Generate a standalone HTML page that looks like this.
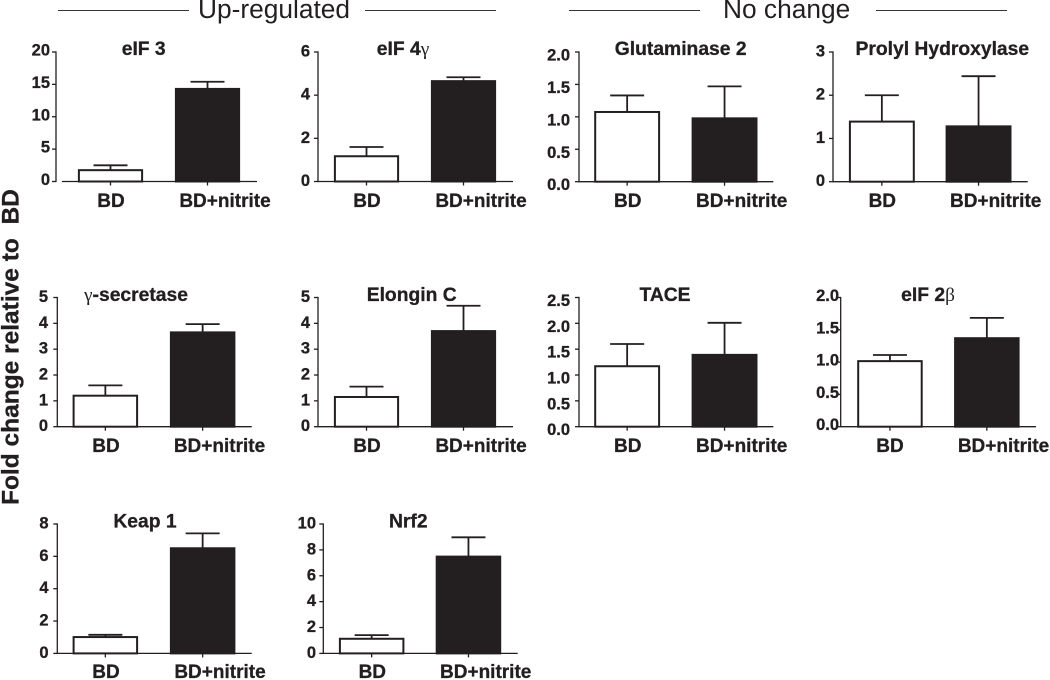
<!DOCTYPE html>
<html lang="en">
<head>
<meta charset="utf-8">
<title>Fold change relative to BD</title>
<style>
  html, body { margin: 0; padding: 0; background: #fff; }
  body { width: 1050px; height: 680px; overflow: hidden; }
  svg { display: block; }
  text { font-family: "Liberation Sans", Arial, sans-serif; fill: #231f20; }
  .bold { font-weight: 700; stroke: #231f20; stroke-width: 0.3px; }
  .greek { font-family: "Liberation Serif", serif; font-weight: 400; stroke-width: 0; }
</style>
</head>
<body>
<svg id="figure" width="1050" height="680" viewBox="0 0 1050 680" xmlns="http://www.w3.org/2000/svg">
  <rect width="1050" height="680" fill="#fff"/>
  <line x1="58" y1="10.5" x2="189" y2="10.5" stroke="#3a3637" stroke-width="1"/>
  <text x="198" y="18" font-size="26.3">Up-regulated</text>
  <line x1="365" y1="10.5" x2="496" y2="10.5" stroke="#3a3637" stroke-width="1"/>
  <line x1="569" y1="10.5" x2="700" y2="10.5" stroke="#3a3637" stroke-width="1"/>
  <text x="723" y="18" font-size="26.3">No change</text>
  <line x1="876" y1="10.5" x2="1007" y2="10.5" stroke="#3a3637" stroke-width="1"/>
  <text class="bold" font-size="24.5" transform="translate(18.5 505) rotate(-90)" xml:space="preserve">Fold change relative to  BD</text>
</svg>
<script>
// ---- Chart data ----
const categories = ["BD", "BD+nitrite"];
const panelNames = ["eIF 3", "eIF 4γ", "Glutaminase 2", "Prolyl Hydroxylase", "γ-secretase", "Elongin C", "TACE", "eIF 2β", "Keap 1", "Nrf2"];
const tickLabels = [
  ["0", "5", "10", "15", "20"],
  ["0", "2", "4", "6"],
  ["0.0", "0.5", "1.0", "1.5", "2.0"],
  ["0", "1", "2", "3"],
  ["0", "1", "2", "3", "4", "5"],
  ["0", "1", "2", "3", "4", "5"],
  ["0.0", "0.5", "1.0", "1.5", "2.0", "2.5"],
  ["0.0", "0.5", "1.0", "1.5", "2.0"],
  ["0", "2", "4", "6", "8"],
  ["0", "2", "4", "6", "8", "10"]
];
const bdValues = [1.75, 1.17, 1.075, 1.39, 1.2, 1.15, 1.17, 1.015, 1.01, 1.13];
const bdErrors = [0.75, 0.43, 0.255, 0.61, 0.4, 0.4, 0.43, 0.095, 0.14, 0.28];
const nitriteValues = [14.3, 4.65, 0.977, 1.28, 3.65, 3.7, 1.39, 1.37, 6.5, 7.48];
const nitriteErrors = [1.1, 0.18, 0.493, 1.16, 0.32, 0.98, 0.62, 0.315, 0.92, 1.49];

// ---- Panel layout (geometry only) ----
const panelLayout = [
  {axisX:56,    axisStart:62,  axisEnd:257,  top:52,  bottom:181.5, barLeft:78,  barWidth:65, barStep:97,   labelEnd:50,  labelShift:-1, titleX:143.7, titleY:55,  labelY:207, labelCenters:[111,225]},
  {axisX:318,   axisStart:318, axisEnd:513,  top:52,  bottom:181.5, barLeft:334, barWidth:65, barStep:97,   labelEnd:310, labelShift:0, titleX:403,   titleY:55,  labelY:207, labelCenters:[367,481]},
  {axisX:579,   axisStart:579, axisEnd:773.3,top:52,  bottom:181.7, barLeft:594.3,barWidth:65.7,barStep:97.4,labelEnd:570, labelShift:4, titleX:680.7, titleY:55,  labelY:207, labelCenters:[627.7,741.7]},
  {axisX:833,   axisStart:833, axisEnd:1027.7,top:52, bottom:181.7, barLeft:849, barWidth:65.7, barStep:96.7, labelEnd:825, labelShift:0, titleX:942.3, titleY:55,  labelY:207, labelCenters:[882.3,995.7]},
  {axisX:57.3,  axisStart:57.3,axisEnd:251.7,top:297.5,bottom:426.7,barLeft:72.7,barWidth:65.3,barStep:97.3, labelEnd:48,  labelShift:0, titleX:136,   titleY:301, labelY:452, labelCenters:[106,219.5]},
  {axisX:318,   axisStart:318, axisEnd:513,  top:297.5,bottom:426.7,barLeft:334, barWidth:65, barStep:97,   labelEnd:310, labelShift:0, titleX:411.7, titleY:301, labelY:452, labelCenters:[367,481]},
  {axisX:579,   axisStart:579, axisEnd:773.3,top:297.5,bottom:426.7,barLeft:594.3,barWidth:65.7,barStep:97.4,labelEnd:570, labelShift:4, titleX:665,   titleY:301, labelY:452, labelCenters:[627.7,741.7]},
  {axisX:840.7, axisStart:840.7,axisEnd:1036,top:297.5,bottom:426.7,barLeft:857.3,barWidth:65.3,barStep:96.9,labelEnd:839, labelShift:-1, titleX:928,   titleY:301, labelY:452, labelCenters:[890,1003.5]},
  {axisX:57.3,  axisStart:57.3,axisEnd:251.7,top:524, bottom:653.4, barLeft:72.7,barWidth:65.3,barStep:97.3, labelEnd:48.5,labelShift:0, titleX:145,   titleY:527.7,labelY:678, labelCenters:[106,220]},
  {axisX:323.3, axisStart:323.3,axisEnd:517.7,top:524,bottom:653.4, barLeft:339, barWidth:65.3,barStep:96.8, labelEnd:316, labelShift:0, titleX:408.3, titleY:527.7,labelY:678, labelCenters:[372.3,485.7]}
];

const INK = "#231f20";
const SVG_NS = "http://www.w3.org/2000/svg";
const figure = document.getElementById("figure");

function shape(parent, tag, attrs) {
  const node = document.createElementNS(SVG_NS, tag);
  for (const key in attrs) node.setAttribute(key, attrs[key]);
  parent.appendChild(node);
  return node;
}
function yScale(layout, domainMax) {
  return value => layout.bottom - (value / domainMax) * (layout.bottom - layout.top);
}
function xBand(layout) {
  return index => layout.barLeft + index * layout.barStep;
}
function slug(text) {
  return text.toLowerCase().replace(/[^a-z0-9]+/g, "-").replace(/^-|-$/g, "");
}
function writeTitle(node, title) {
  // Greek letters use the serif face at regular weight, as in the figure.
  title.split(/([γβ])/).forEach(part => {
    if (!part) return;
    const span = document.createElementNS(SVG_NS, "tspan");
    if (part === "γ" || part === "β") span.setAttribute("class", "greek");
    span.textContent = part;
    node.appendChild(span);
  });
}

panelNames.forEach((title, p) => {
  const layout = panelLayout[p];
  const ticks = tickLabels[p];
  const y = yScale(layout, parseFloat(ticks[ticks.length - 1]));
  const x = xBand(layout);
  const means = [bdValues[p], nitriteValues[p]];
  const errors = [bdErrors[p], nitriteErrors[p]];
  const key = slug(title.replace("γ", "gamma").replace("β", "beta"));

  const group = shape(figure, "g", {});
  
  

  const heading = shape(group, "text", {x: layout.titleX, y: layout.titleY, "text-anchor": "middle", "font-size": 19.3, class: "bold"});
  writeTitle(heading, title);
  
  

  categories.forEach((category, i) => {
    const left = x(i);
    const center = left + layout.barWidth / 2;
    const capHalf = 17;
    const mean = means[i];
    const upper = mean + errors[i];

    const stem = shape(group, "line", {x1: center, x2: center, y1: y(mean), y2: y(upper), stroke: INK, "stroke-width": 1.8});
    
    

    const cap = shape(group, "line", {x1: center - capHalf, x2: center + capHalf, y1: y(upper), y2: y(upper), stroke: INK, "stroke-width": 1.8});
    
    

    const bar = shape(group, "rect", {
      x: left + 0.9, y: y(mean),
      width: layout.barWidth - 1.8, height: layout.bottom - y(mean),
      fill: i === 0 ? "#fff" : INK, stroke: INK, "stroke-width": 2
    });
    
    

    const tick = shape(group, "line", {x1: center, x2: center, y1: layout.bottom, y2: layout.bottom + 4, stroke: INK, "stroke-width": 1.3});
    
    

    const label = shape(group, "text", {x: layout.labelCenters[i], y: layout.labelY, "text-anchor": "middle", "font-size": 19, class: "bold"});
    label.textContent = category;
    
    
  });

  const yAxis = shape(group, "line", {x1: layout.axisX, x2: layout.axisX, y1: layout.top - 0.6, y2: layout.bottom + 0.6, stroke: INK, "stroke-width": 1.3});
  
  

  const xAxis = shape(group, "line", {x1: layout.axisStart, x2: layout.axisEnd, y1: layout.bottom, y2: layout.bottom, stroke: INK, "stroke-width": 1.3});
  
  

  ticks.forEach(text => {
    const pos = y(parseFloat(text));
    const tick = shape(group, "line", {x1: layout.axisX - 4, x2: layout.axisX, y1: pos, y2: pos, stroke: INK, "stroke-width": 1.3});
    
    

    const label = shape(group, "text", {x: layout.labelEnd, y: pos + 4.5 + layout.labelShift, "text-anchor": "end", "font-size": 16.5, class: "bold"});
    label.textContent = text;
    
    
  });
});
</script>
</body>
</html>
